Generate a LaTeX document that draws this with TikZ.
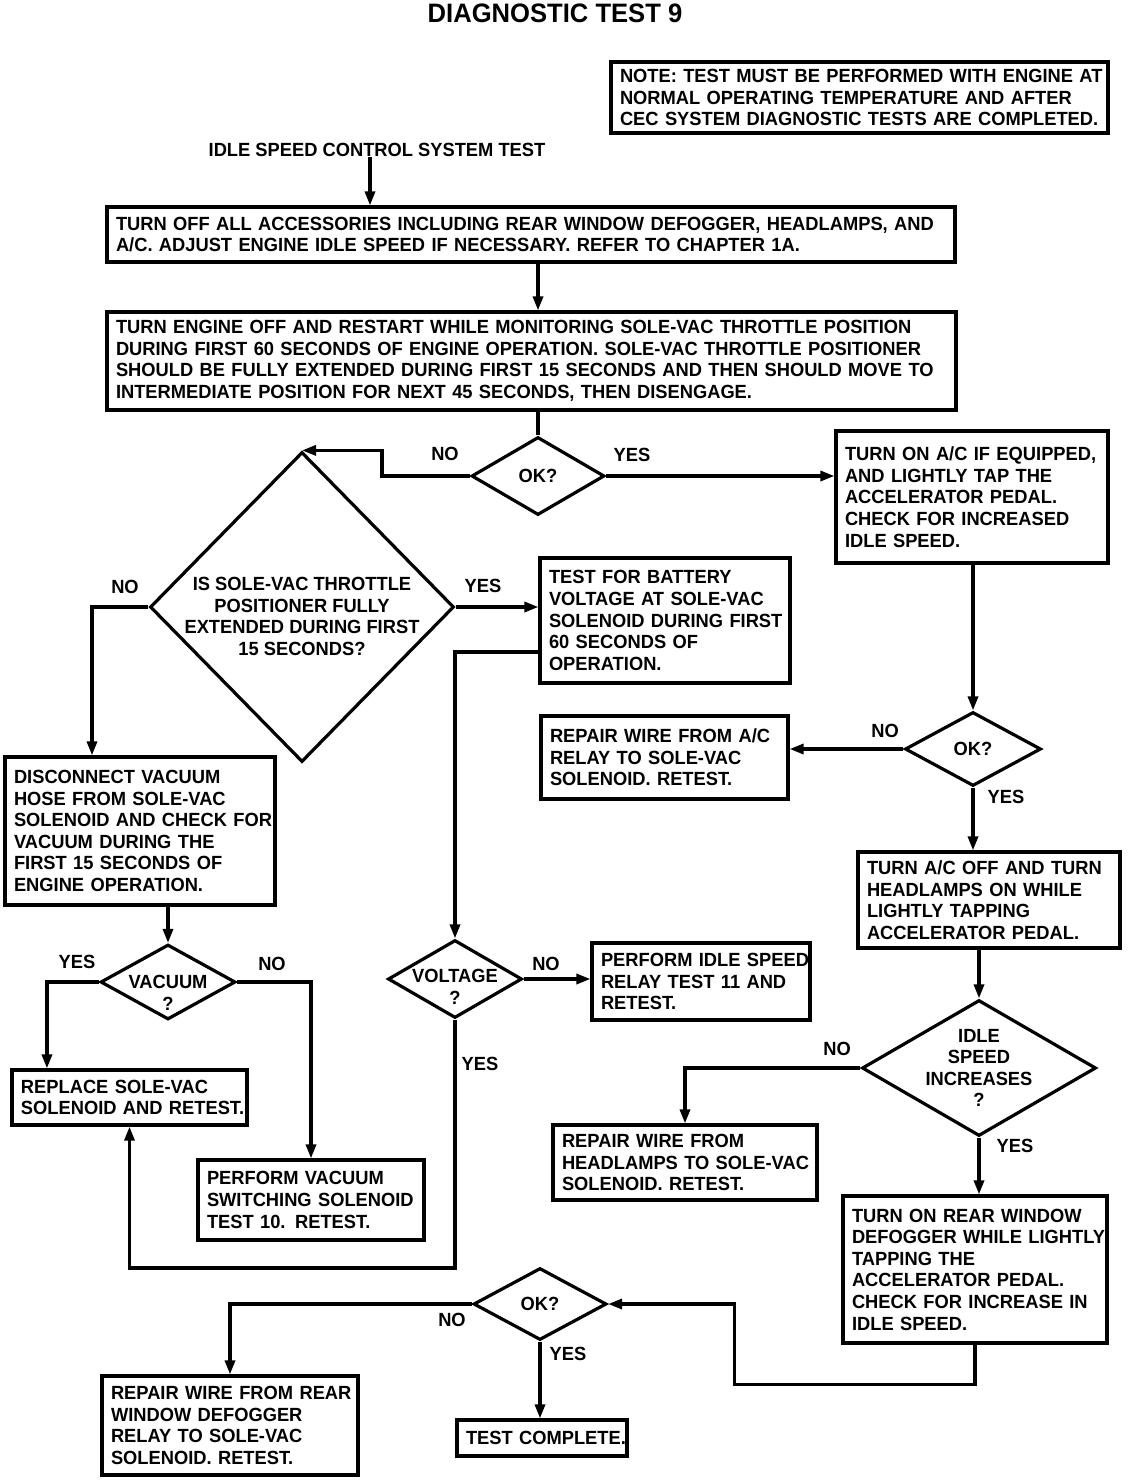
\documentclass[tikz,border=0pt]{standalone}
\usepackage{fontspec}
\newfontfamily\diag{Liberation Sans}[FakeStretch=0.96]
\usetikzlibrary{arrows.meta,shapes.geometric}
\newcommand\Lx[1]{\mbox{#1}}
\begin{document}
\begin{tikzpicture}[x=0.75pt,y=-0.75pt,
  every node/.style={font=\diag\bfseries\fontsize{14.3}{16.2}\selectfont},
  box/.style={draw,line width=2.4pt,rectangle,inner xsep=6.75pt,inner ysep=0pt,align=left},
  dia/.style={draw,line width=2.4pt,diamond,inner sep=0pt},
  dtext/.style={align=center,inner sep=0pt},
  lbl/.style={inner sep=0pt},
  arr/.style={line width=2.4pt,-{Triangle[length=10.5pt,width=7.5pt]}},
  ln/.style={line width=2.4pt},
]
\fill[white] (0,0) rectangle (1136,1480);
\useasboundingbox (0,0) rectangle (1136,1480);

\node[font=\diag\bfseries\fontsize{20}{23}\selectfont] (title) at (555,13) {DIAGNOSTIC TEST 9};

\node[box,minimum width=372.75pt,minimum height=53.25pt,text width=359.25pt] (note) at (859.5,97.5)
 {\Lx{NOTE: TEST MUST BE PERFORMED WITH ENGINE AT}\\\Lx{NORMAL OPERATING TEMPERATURE AND AFTER}\\\Lx{CEC SYSTEM DIAGNOSTIC TESTS ARE COMPLETED.}};

\node[lbl] (start) at (377,150) {IDLE SPEED CONTROL SYSTEM TEST};

\node[box,minimum width=636pt,minimum height=41.25pt,text width=622.5pt] (box1) at (531,234.5)
 {\Lx{TURN OFF ALL ACCESSORIES INCLUDING REAR WINDOW DEFOGGER, HEADLAMPS, AND}\\\Lx{A/C. ADJUST ENGINE IDLE SPEED IF NECESSARY. REFER TO CHAPTER 1A.}};

\node[box,minimum width=636.75pt,minimum height=73.5pt,text width=623.25pt] (box2) at (531.5,361)
 {\Lx{TURN ENGINE OFF AND RESTART WHILE MONITORING SOLE-VAC THROTTLE POSITION}\\\Lx{DURING FIRST 60 SECONDS OF ENGINE OPERATION. SOLE-VAC THROTTLE POSITIONER}\\\Lx{SHOULD BE FULLY EXTENDED DURING FIRST 15 SECONDS AND THEN SHOULD MOVE TO}\\\Lx{INTERMEDIATE POSITION FOR NEXT 45 SECONDS, THEN DISENGAGE.}};

\node[dia,minimum width=99.75pt,minimum height=58.5pt] (ok1) at (538,476) {};
\node[dtext] (ok1t) at (ok1.center) {OK?};

\node[box,minimum width=204pt,minimum height=99pt,text width=190.5pt] (box3) at (972,497)
 {\Lx{TURN ON A/C IF EQUIPPED,}\\\Lx{AND LIGHTLY TAP THE}\\\Lx{ACCELERATOR PEDAL.}\\\Lx{CHECK FOR INCREASED}\\\Lx{IDLE SPEED.}};

\node[dia,minimum width=228pt,minimum height=232.5pt] (big) at (302,607) {};
\node[dtext] (bigt) at ([yshift=-7pt]big.center) {IS SOLE-VAC THROTTLE\\POSITIONER FULLY\\EXTENDED DURING FIRST\\15 SECONDS?};

\node[box,minimum width=187.5pt,minimum height=93.75pt,text width=174pt] (box4) at (665,620.5)
 {\Lx{TEST FOR BATTERY}\\\Lx{VOLTAGE AT SOLE-VAC}\\\Lx{SOLENOID DURING FIRST}\\\Lx{60 SECONDS OF}\\\Lx{OPERATION.}};

\node[box,minimum width=202.5pt,minimum height=111pt,text width=189pt] (box5) at (140,831)
 {\Lx{DISCONNECT VACUUM}\\\Lx{HOSE FROM SOLE-VAC}\\\Lx{SOLENOID AND CHECK FOR}\\\Lx{VACUUM DURING THE}\\\Lx{FIRST 15 SECONDS OF}\\\Lx{ENGINE OPERATION.}};

\node[dia,minimum width=101.25pt,minimum height=56.25pt] (vac) at (168,982) {};
\node[dtext] (vact) at ([yshift=-8pt]vac.center) {VACUUM\\?};

\node[box,minimum width=176.25pt,minimum height=41.25pt,text width=162.75pt] (box6) at (129.5,1097.5)
 {\Lx{REPLACE SOLE-VAC}\\\Lx{SOLENOID AND RETEST.}};

\node[box,minimum width=169.5pt,minimum height=60pt,text width=156pt] (box7) at (311,1200)
 {\Lx{PERFORM VACUUM}\\\Lx{SWITCHING SOLENOID}\\\Lx{TEST 10. RETEST.}};

\node[dia,minimum width=100.5pt,minimum height=58.5pt] (volt) at (455,979) {};
\node[dtext] (voltt) at ([yshift=-6pt]volt.center) {VOLTAGE\\?};

\node[box,minimum width=163.5pt,minimum height=57.75pt,text width=150pt] (box8) at (701,981.5)
 {\Lx{PERFORM IDLE SPEED}\\\Lx{RELAY TEST 11 AND}\\\Lx{RETEST.}};

\node[dia,minimum width=102pt,minimum height=55.5pt] (ok2) at (973,749) {};
\node[dtext] (ok2t) at (ok2.center) {OK?};

\node[box,minimum width=185.25pt,minimum height=62.25pt,text width=171.75pt] (box9) at (664.5,757.5)
 {\Lx{REPAIR WIRE FROM A/C}\\\Lx{RELAY TO SOLE-VAC}\\\Lx{SOLENOID. RETEST.}};

\node[box,minimum width=196.5pt,minimum height=72pt,text width=183pt] (box10) at (989,900)
 {\Lx{TURN A/C OFF AND TURN}\\\Lx{HEADLAMPS ON WHILE}\\\Lx{LIGHTLY TAPPING}\\\Lx{ACCELERATOR PEDAL.}};

\node[dia,minimum width=175.5pt,minimum height=102pt] (idle) at (979,1068) {};
\node[dtext] (idlet) at (idle.center) {IDLE\\SPEED\\INCREASES\\?};

\node[box,minimum width=198pt,minimum height=56.25pt,text width=184.5pt] (box11) at (685,1162.5)
 {\Lx{REPAIR WIRE FROM}\\\Lx{HEADLAMPS TO SOLE-VAC}\\\Lx{SOLENOID. RETEST.}};

\node[box,minimum width=198pt,minimum height=110.25pt,text width=184.5pt] (box12) at (975,1269.5)
 {\Lx{TURN ON REAR WINDOW}\\\Lx{DEFOGGER WHILE LIGHTLY}\\\Lx{TAPPING THE}\\\Lx{ACCELERATOR PEDAL.}\\\Lx{CHECK FOR INCREASE IN}\\\Lx{IDLE SPEED.}};

\node[dia,minimum width=99.75pt,minimum height=54pt] (ok3) at (540,1304) {};
\node[dtext] (ok3t) at (ok3.center) {OK?};

\node[box,minimum width=192pt,minimum height=74.25pt,text width=178.5pt] (box13) at (230,1425.5)
 {\Lx{REPAIR WIRE FROM REAR}\\\Lx{WINDOW DEFOGGER}\\\Lx{RELAY TO SOLE-VAC}\\\Lx{SOLENOID. RETEST.}};

\node[box,minimum width=127.5pt,minimum height=27pt,text width=114pt] (box14) at (542,1438)
 {\Lx{TEST COMPLETE.}};

% labels
\node[lbl] (l1) at (445,454) {NO};
\node[lbl] (l2) at (632,455) {YES};
\node[lbl] (l3) at (483,586) {YES};
\node[lbl] (l4) at (125,587) {NO};
\node[lbl] (l5) at (77,962) {YES};
\node[lbl] (l6) at (272,964) {NO};
\node[lbl] (l7) at (546,964) {NO};
\node[lbl] (l8) at (480,1064) {YES};
\node[lbl] (l9) at (885,731) {NO};
\node[lbl] (l10) at (1006,797) {YES};
\node[lbl] (l11) at (837,1049) {NO};
\node[lbl] (l12) at (1015,1146) {YES};
\node[lbl] (l13) at (452,1320) {NO};
\node[lbl] (l14) at (568,1354) {YES};

% connectors
\draw[arr] ([xshift=-5.25pt]start.south) -- ([xshift=-5.25pt]start.south |- box1.north);
\draw[arr] (box1.south -| ok1.north) -- (box2.north -| ok1.north);
\draw[ln] (box2.south -| ok1.north) -- (ok1.north);
\draw[arr] (ok1.west) -- ++(-88,0) |- (big.north);
\draw[arr] (ok1.east) -- (ok1.east -| box3.west);
\draw[arr] (big.east) -- (big.east -| box4.west);
\draw[arr] (box4.west |- 0,652) -| (volt.north);
\draw[arr] (big.west) -| ([xshift=-36pt]box5.north);
\draw[arr] (box5.south -| vac.north) -- (vac.north);
\draw[arr] (vac.west) -| ([xshift=-61.9pt]box6.north);
\draw[arr] (vac.east) -| (box7.north);
\draw[arr] (volt.east) -- (volt.east -| box8.west);
\draw[arr] (volt.south) -- (volt.south |- 0,1268) -| (box6.south);
\draw[arr] (box3.south -| ok2.north) -- (ok2.north);
\draw[arr] (ok2.west) -- (ok2.west -| box9.east);
\draw[arr] (ok2.south) -- (ok2.south |- box10.north);
\draw[arr] (box10.south -| idle.north) -- (idle.north);
\draw[arr] (idle.west) -| (box11.north);
\draw[arr] (idle.south) -- (idle.south |- box12.north);
\draw[arr] (box12.south) -- ++(0,40) -| ([xshift=94.5pt]ok3.east) -- (ok3.east);
\draw[arr] (ok3.west) -| (box13.north);
\draw[arr] (ok3.south) -- (ok3.south |- box14.north);
\end{tikzpicture}
\end{document}
